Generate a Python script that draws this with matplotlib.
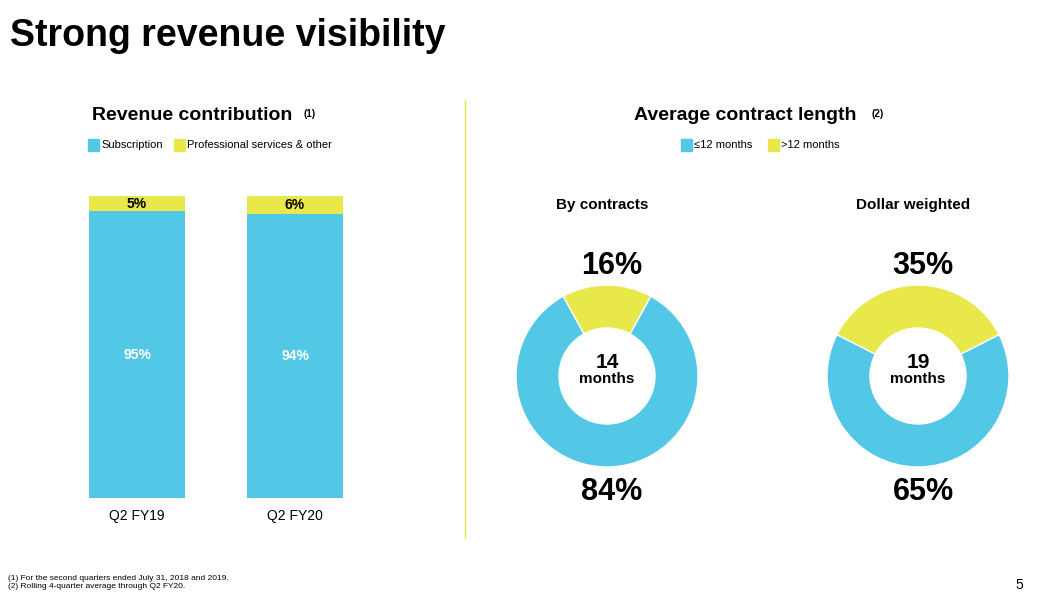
#!/usr/bin/env python3
# Script to draw the revenue visibility slide

import matplotlib.pyplot as plt
from matplotlib.patches import Rectangle

# Colors for the two segments
COLORS = {
    'blue': '#52C8E6',
    'yellow': '#E8E84A'
}

# Revenue contribution data
quarters = ['Q2 FY19', 'Q2 FY20']
subscription = [95, 94]
services = [5, 6]

# Contract length data
donut_titles = ['By contracts', 'Dollar weighted']
short_share = [84, 65]
long_share = [16, 35]
avg_months = [14, 19]


def px(x, y):
    """Converts pixel position to figure fraction."""
    return x / 1038, 1 - y / 595


def plot_bars(fig):
    """Plots the stacked revenue contribution bars."""
    ax = fig.add_axes([60 / 1038, 97 / 595, 310 / 1038, 302 / 595])
    pos = range(len(quarters))
    ax.bar(pos, subscription, width=0.608, color=COLORS['blue'])
    ax.bar(pos, services, width=0.608, bottom=subscription, color=COLORS['yellow'])
    for i in pos:
        ax.text(i, subscription[i] / 2, f'{subscription[i]}%', ha='center', va='center',
                color='white', fontsize=10, fontweight='bold')
        ax.text(i, subscription[i] + services[i] / 2, f'{services[i]}%', ha='center',
                va='center', fontsize=10, fontweight='bold')
    ax.set_xlim(-0.487, 1.475)
    ax.set_ylim(0, 100)
    ax.set_xticks(list(pos))
    ax.set_xticklabels(quarters, fontsize=10)
    ax.tick_params(length=0, pad=8)
    ax.set_yticks([])
    for s in ax.spines.values():
        s.set_visible(False)


def plot_donuts(fig):
    """Plots the contract length donuts."""
    for i, cx in enumerate([607, 918]):
        ax = fig.add_axes([(cx - 100) / 1038, (595 - 376 - 100) / 595, 200 / 1038, 200 / 595])
        start = 90 + long_share[i] * 3.6 / 2
        ax.pie([long_share[i], short_share[i]], colors=[COLORS['yellow'], COLORS['blue']],
               startangle=start, counterclock=False, radius=0.91,
               wedgeprops=dict(width=0.43, edgecolor='white', linewidth=1))
        ax.set_xlim(-1, 1)
        ax.set_ylim(-1, 1)
        ax.set_aspect('equal')
        ax.axis('off')
        ax.text(0, 0.04, f'{avg_months[i]}', ha='center', va='bottom', fontsize=15, fontweight='bold')
        ax.text(0, 0.04, 'months', ha='center', va='top', fontsize=11, fontweight='bold')
        fig.text(*px(cx - 5, 205), donut_titles[i], ha='center', va='center', fontsize=11, fontweight='bold')
        fig.text(*px(cx + 5, 266), f'{long_share[i]}%', ha='center', va='center', fontsize=22, fontweight='bold')
        fig.text(*px(cx + 5, 492), f'{short_share[i]}%', ha='center', va='center', fontsize=22, fontweight='bold')


def legend(fig, x, y, items):
    """Draws a small square legend row."""
    for label, color, dx in items:
        fig.patches.append(Rectangle(px(x + dx, y + 6), 11 / 1038, 12 / 595, color=color,
                                     transform=fig.transFigure))
        fig.text(*px(x + dx + 13, y), label, va='center', fontsize=8)


def main():
    plt.rcParams['font.family'] = ['Liberation Sans', 'DejaVu Sans']
    fig = plt.figure(figsize=(10.38, 5.95), dpi=100)

    fig.text(*px(10, 36), 'Strong revenue visibility', fontsize=27, fontweight='bold', va='center')
    fig.text(*px(92, 116), 'Revenue contribution', fontsize=14, fontweight='bold', va='center')
    fig.text(*px(304, 114), '(1)', fontsize=7, fontweight='bold', va='center')
    fig.text(*px(634, 116), 'Average contract length', fontsize=14, fontweight='bold', va='center')
    fig.text(*px(871, 114), '(2)', fontsize=7, fontweight='bold', va='center')
    legend(fig, 88, 145, [('Subscription', COLORS['blue'], 0),
                          ('Professional services & other', COLORS['yellow'], 86)])
    legend(fig, 681, 145, [('≤12 months', COLORS['blue'], 0),
                           ('>12 months', COLORS['yellow'], 87)])

    fig.add_artist(plt.Line2D([465 / 1038] * 2, [1 - 100 / 595, 1 - 538 / 595],
                              color=COLORS['yellow'], linewidth=1))

    plot_bars(fig)
    plot_donuts(fig)

    fig.text(*px(8, 578), '(1) For the second quarters ended July 31, 2018 and 2019.', fontsize=6, va='center')
    fig.text(*px(8, 587), '(2) Rolling 4-quarter average through Q2 FY20.', fontsize=6, va='center')
    fig.text(*px(1015, 585), '5', fontsize=10, va='center')

    fig.savefig('out.png', dpi=100)
    plt.close(fig)


if __name__ == "__main__":
    main()
